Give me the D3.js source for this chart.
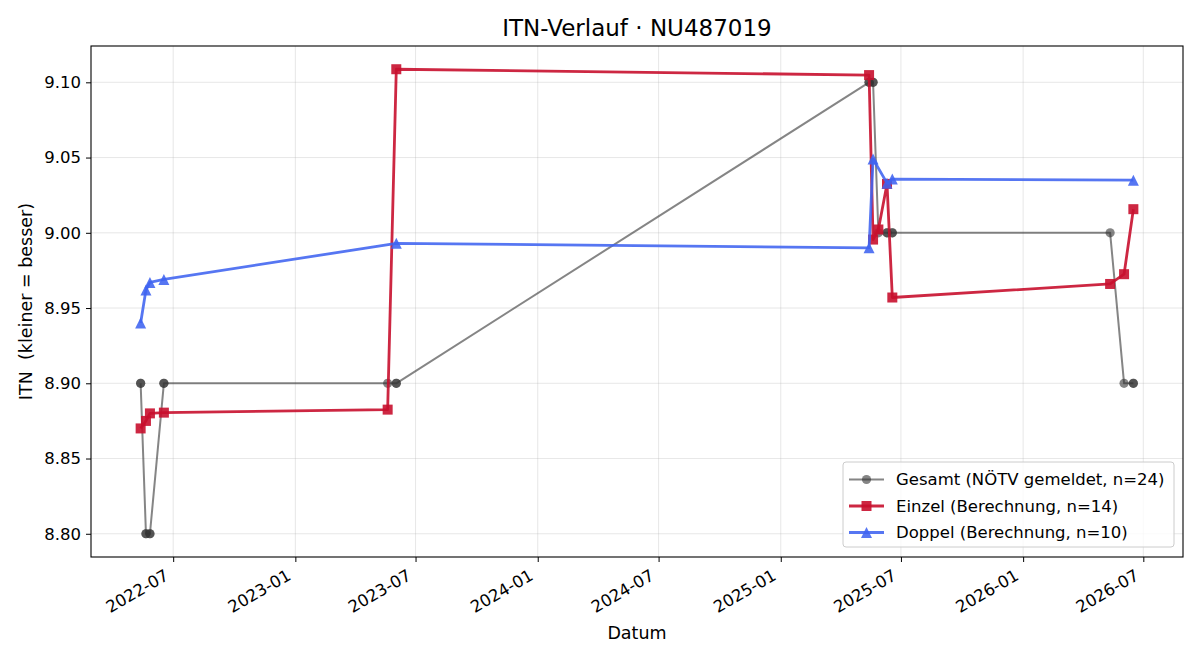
<!DOCTYPE html>
<html>
<head>
<meta charset="utf-8">
<script src="https://cdn.jsdelivr.net/npm/d3@7"></script>
<style>
  body { margin: 0; background: #fff; }
  svg { font-family: "DejaVu Sans", sans-serif; }
</style>
</head>
<body>
<div id="chart"></div>
<script>
// --- data ---
const gesamtDates = ["2022-05-13","2022-05-13","2022-05-21","2022-05-21","2022-05-27","2022-05-27",
  "2022-06-17","2022-06-17","2023-05-20","2023-06-02","2023-06-02","2025-05-14","2025-05-14",
  "2025-05-20","2025-05-20","2025-05-28","2025-06-10","2025-06-10","2025-06-18","2025-06-18",
  "2026-05-12","2026-06-02","2026-06-16","2026-06-16"];
const gesamtValues = [8.90,8.90,8.80,8.80,8.80,8.80,8.90,8.90,8.90,8.90,8.90,9.10,9.10,
  9.10,9.10,9.00,9.00,9.00,9.00,9.00,9.00,8.90,8.90,8.90];

const einzelDates = ["2022-05-13","2022-05-21","2022-05-27","2022-06-17","2023-05-20","2023-06-02",
  "2025-05-14","2025-05-20","2025-05-28","2025-06-10","2025-06-18","2026-05-12","2026-06-02","2026-06-16"];
const einzelValues = [8.870,8.875,8.880,8.8805,8.8825,9.1087,9.1048,8.9955,9.0022,9.0325,8.9570,8.9660,8.9725,9.0157];

const doppelDates = ["2022-05-13","2022-05-21","2022-05-27","2022-06-17","2023-06-02",
  "2025-05-14","2025-05-20","2025-06-10","2025-06-18","2026-06-16"];
const doppelValues = [8.940,8.962,8.967,8.969,8.993,8.990,9.049,9.033,9.0357,9.035];

const yTicks = [8.80, 8.85, 8.90, 8.95, 9.00, 9.05, 9.10];
const legendLabels = ["Gesamt (NÖTV gemeldet, n=24)", "Einzel (Berechnung, n=14)", "Doppel (Berechnung, n=10)"];
const titleText = "ITN-Verlauf · NU487019";

const parse = d3.timeParse("%Y-%m-%d");
const zip = (ds, vs) => ds.map((d, i) => ({date: parse(d), value: vs[i]}));

const series = [
  {key: "gesamt", data: zip(gesamtDates, gesamtValues), color: "#333333", alpha: 0.6, lw: 2, marker: "circle", size: 4.6},
  {key: "einzel", data: zip(einzelDates, einzelValues), color: "#c8102e", alpha: 0.9, lw: 2.8, marker: "square", size: 10},
  {key: "doppel", data: zip(doppelDates, doppelValues), color: "#3f63f0", alpha: 0.88, lw: 2.8, marker: "triangle", size: 11}
];

const FONT = "DejaVu Sans, sans-serif";
const width = 1200, height = 660;
const margin = {top: 46, right: 17, bottom: 103, left: 91};
const w = width - margin.left - margin.right;
const h = height - margin.top - margin.bottom;

const svg = d3.select("#chart").append("svg")
  .attr("width", width).attr("height", height)
  .attr("font-family", FONT);

const all = series.flatMap(s => s.data);
const xExt = d3.extent(all, d => d.date);
const xPad = (xExt[1] - xExt[0]) * 0.05;
const yExt = d3.extent(all, d => d.value);
const yPad = (yExt[1] - yExt[0]) * 0.05;

const xScale = d3.scaleTime()
  .domain([new Date(+xExt[0] - xPad), new Date(+xExt[1] + xPad)])
  .range([0, w]);
const yScale = d3.scaleLinear()
  .domain([yExt[0] - yPad, yExt[1] + yPad])
  .range([h, 0]);

const chart = svg.append("g")
  .attr("transform", `translate(${margin.left},${margin.top})`);

const xTickVals = xScale.ticks(d3.timeMonth.every(6));

// grid
chart.append("g").selectAll("line").data(xTickVals).join("line")
  .attr("x1", d => xScale(d)).attr("x2", d => xScale(d))
  .attr("y1", 0).attr("y2", h)
  .attr("stroke", "#b0b0b0").attr("stroke-opacity", 0.3).attr("stroke-width", 1);
chart.append("g").selectAll("line").data(yTicks).join("line")
  .attr("y1", d => yScale(d)).attr("y2", d => yScale(d))
  .attr("x1", 0).attr("x2", w)
  .attr("stroke", "#b0b0b0").attr("stroke-opacity", 0.3).attr("stroke-width", 1);

// axes
const xAxis = d3.axisBottom(xScale).tickValues(xTickVals).tickSize(5).tickFormat(d3.timeFormat("%Y-%m"));
const yAxis = d3.axisLeft(yScale).tickValues(yTicks).tickSize(5).tickFormat(d3.format(".2f"));

const xAxisG = chart.append("g").attr("transform", `translate(0,${h})`).call(xAxis)
  .attr("font-family", FONT);
xAxisG.select(".domain").remove();
xAxisG.selectAll(".tick line").attr("stroke", "#000").attr("stroke-width", 1);
xAxisG.selectAll(".tick text")
  .attr("font-size", 16.5).attr("fill", "#000")
  .attr("text-anchor", "end")
  .attr("y", 0).attr("dy", "0.75em")
  .attr("transform", "translate(-10,11) rotate(-30)");

const yAxisG = chart.append("g").call(yAxis)
  .attr("font-family", FONT);
yAxisG.select(".domain").remove();
yAxisG.selectAll(".tick line").attr("stroke", "#000").attr("stroke-width", 1);
yAxisG.selectAll(".tick text").attr("font-size", 16.5).attr("fill", "#000").attr("x", -10);

// frame
chart.append("rect")
  .attr("x", 0).attr("y", 0).attr("width", w).attr("height", h)
  .attr("fill", "none").attr("stroke", "#000").attr("stroke-width", 1.1);

// markers
function drawMarker(sel, s, x, y) {
  if (s.marker === "circle") {
    sel.append("circle").attr("cx", x).attr("cy", y).attr("r", s.size)
      .attr("fill", s.color).attr("opacity", s.alpha);
  } else if (s.marker === "square") {
    sel.append("rect").attr("x", x - s.size / 2).attr("y", y - s.size / 2)
      .attr("width", s.size).attr("height", s.size)
      .attr("fill", s.color).attr("opacity", s.alpha);
  } else {
    const r = s.size / 2;
    sel.append("path")
      .attr("d", `M${x},${y - r}L${x + r},${y + r}L${x - r},${y + r}Z`)
      .attr("fill", s.color).attr("opacity", s.alpha);
  }
}

const line = d3.line().x(d => xScale(d.date)).y(d => yScale(d.value));

series.forEach(s => {
  const g = chart.append("g").attr("class", "series-" + s.key);
  g.append("path").datum(s.data)
    .attr("d", line)
    .attr("fill", "none").attr("stroke", s.color)
    .attr("stroke-opacity", s.alpha).attr("stroke-width", s.lw)
    .attr("stroke-linejoin", "round");
  s.data.forEach(d => drawMarker(g, s, xScale(d.date), yScale(d.value)));
});

// legend
const leg = svg.append("g").attr("transform", "translate(843,462)");
leg.append("rect").attr("width", 331).attr("height", 85).attr("rx", 3)
  .attr("fill", "#fff").attr("fill-opacity", 0.8)
  .attr("stroke", "#cccccc").attr("stroke-width", 1);
series.forEach((s, i) => {
  const yy = 17.5 + i * 26.5;
  leg.append("line").attr("x1", 6).attr("x2", 41).attr("y1", yy).attr("y2", yy)
    .attr("stroke", s.color).attr("stroke-opacity", s.alpha).attr("stroke-width", s.lw);
  drawMarker(leg, s, 23.5, yy);
  leg.append("text").attr("x", 53).attr("y", yy).attr("dy", "0.35em")
    .attr("font-size", 16.5).attr("fill", "#000").text(legendLabels[i]);
});

// titles
svg.append("text")
  .attr("x", margin.left + w / 2).attr("y", 36)
  .attr("text-anchor", "middle").attr("font-size", 23).attr("fill", "#000")
  .text(titleText);

svg.append("text")
  .attr("x", margin.left + w / 2).attr("y", 639)
  .attr("text-anchor", "middle").attr("font-size", 17.5).attr("fill", "#000")
  .text("Datum");

svg.append("text")
  .attr("transform", `translate(26,${margin.top + h / 2}) rotate(-90)`)
  .attr("text-anchor", "middle").attr("dy", "0.35em").attr("font-size", 17.5).attr("fill", "#000")
  .style("white-space", "pre")
  .text("ITN  (kleiner = besser)");
</script>
</body>
</html>
